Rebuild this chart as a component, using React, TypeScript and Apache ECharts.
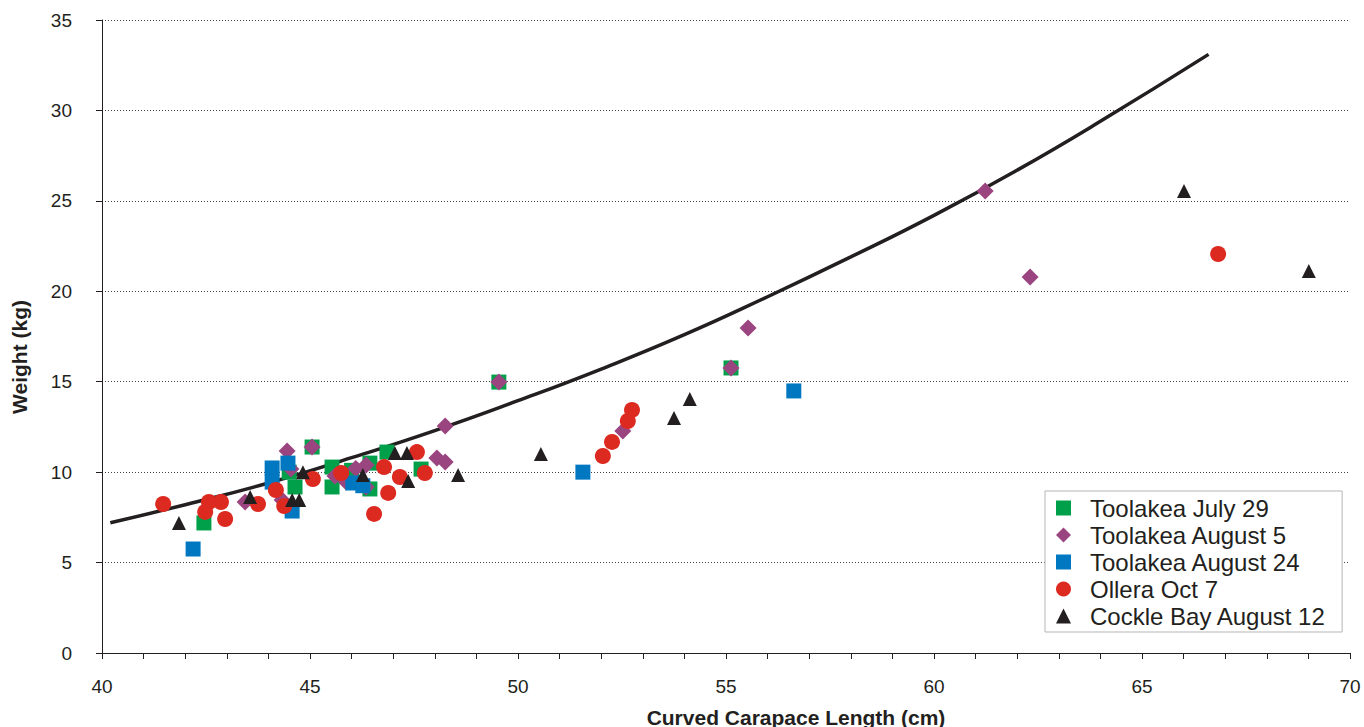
import React, { useEffect, useRef } from "react";
import * as echarts from "echarts";

// ---- data ----
const toolakeaJuly29: number[][] = [
  [42.45, 7.19], [44.5, 10.0], [44.64, 9.18], [45.05, 11.39], [45.53, 10.28],
  [45.53, 9.18], [46.0, 10.1], [46.44, 10.5], [46.44, 9.07], [46.85, 11.11],
  [47.67, 10.17], [49.54, 14.98], [55.12, 15.76],
];
const toolakeaAugust5: number[][] = [
  [43.44, 8.35], [44.33, 8.46], [44.45, 11.17], [44.54, 10.17], [45.05, 11.39],
  [45.6, 9.79], [45.87, 9.45], [46.1, 10.2], [46.35, 10.39], [46.35, 9.18],
  [48.05, 10.78], [48.25, 10.56], [48.25, 12.55], [49.54, 14.98], [52.52, 12.27],
  [55.12, 15.76], [55.53, 17.97], [61.23, 25.54], [62.31, 20.79],
];
const toolakeaAugust24: number[][] = [
  [42.19, 5.75], [44.09, 10.23], [44.09, 9.45], [44.47, 10.5], [44.57, 7.85],
  [46.03, 9.4], [46.27, 9.25], [51.56, 10.0], [56.63, 14.49],
];
const olleraOct7: number[][] = [
  [41.47, 8.24], [42.48, 7.8], [42.57, 8.35], [42.86, 8.35], [42.96, 7.41],
  [43.75, 8.24], [44.18, 9.01], [44.38, 8.13], [45.07, 9.62], [45.75, 9.95],
  [46.54, 7.69], [46.78, 10.28], [46.88, 8.85], [47.16, 9.73], [47.57, 11.11],
  [47.76, 9.95], [52.04, 10.89], [52.26, 11.67], [52.64, 12.83], [52.74, 13.44],
  [66.83, 22.06],
];
const cockleBayAugust12: number[][] = [
  [41.85, 7.19], [43.56, 8.63], [44.57, 8.46], [44.74, 8.46], [44.83, 10.0],
  [46.27, 9.84], [47.04, 11.06], [47.33, 11.06], [47.36, 9.51], [48.56, 9.84],
  [50.55, 11.0], [53.75, 12.99], [54.13, 14.04], [66.01, 25.55], [69.01, 21.12],
];
// trend curve, points
const curveX: number[] = [40.2, 42, 44, 46, 48, 50, 52, 54, 56, 58, 60, 62, 64, 66.6];
const curveY: number[] = [7.2, 8.2, 9.4, 10.8, 12.3, 13.95, 15.7, 17.6, 19.7, 21.9, 24.2, 26.7, 29.4, 33.1];

const seriesNames = [
  "Toolakea July 29",
  "Toolakea August 5",
  "Toolakea August 24",
  "Ollera Oct 7",
  "Cockle Bay August 12",
];
const xTitle = "Curved Carapace Length (cm)";
const yTitle = "Weight (kg)";

const FONT = "'Liberation Sans', Arial, sans-serif";
const INK = "#231F20";

export default function App() {
  const ref = useRef<HTMLDivElement>(null);
  useEffect(() => {
    document.body.style.margin = "0";
    const chart = echarts.init(ref.current!, null, { renderer: "svg" });
    const scatter = (name: string, data: number[][], symbol: string, size: number, color: string) => ({
      name,
      type: "scatter",
      data,
      symbol,
      symbolSize: size,
      itemStyle: { color, opacity: 1 },
      z: 3,
      emphasis: { disabled: true },
    });
    chart.setOption({
      animation: false,
      backgroundColor: "#ffffff",
      textStyle: { fontFamily: FONT },
      grid: { left: 102, right: 14, top: 20, bottom: 74, containLabel: false },
      xAxis: {
        type: "value",
        min: 40,
        max: 70,
        interval: 5,
        axisLine: { show: true, onZero: false, lineStyle: { color: INK, width: 1 } },
        axisTick: { show: true, length: 6, lineStyle: { color: INK } },
        minorTick: { show: true, splitNumber: 5, length: 6, lineStyle: { color: INK } },
        splitLine: { show: false },
        axisLabel: { color: INK, fontSize: 19, margin: 24, fontFamily: FONT },
      },
      yAxis: {
        type: "value",
        min: 0,
        max: 35,
        interval: 5,
        axisLine: { show: true, lineStyle: { color: INK, width: 1 } },
        axisTick: { show: true, length: 6, lineStyle: { color: INK } },
        splitLine: { show: true, lineStyle: { color: "#444", width: 1, type: [1, 2] } },
        axisLabel: { color: INK, fontSize: 19, margin: 30, fontFamily: FONT },
      },
      legend: {
        orient: "vertical",
        left: 1045,
        top: 491,
        padding: [5, 16, 4, 11],
        itemGap: 3,
        itemWidth: 15,
        itemHeight: 15,
        backgroundColor: "#ffffff",
        borderColor: "#b5b5b5",
        borderWidth: 1,
        borderRadius: 0,
        data: seriesNames,
        textStyle: { color: INK, fontSize: 24, fontFamily: FONT, padding: [0, 0, 0, 14] },
        selectedMode: false,
      },
      graphic: [
        {
          type: "text",
          x: 796,
          y: 717,
          style: { text: xTitle, fill: INK, font: `bold 21px ${FONT}`, align: "center", verticalAlign: "middle" },
        },
        {
          type: "text",
          x: 19,
          y: 357,
          rotation: Math.PI / 2,
          style: { text: yTitle, fill: INK, font: `bold 21px ${FONT}`, align: "center", verticalAlign: "middle" },
        },
      ],
      series: [
        {
          name: "curve",
          type: "line",
          data: curveX.map((x, i) => [x, curveY[i]]),
          smooth: true,
          showSymbol: false,
          symbol: "none",
          lineStyle: { color: INK, width: 3.5 },
          z: 2,
          emphasis: { disabled: true },
        },
        scatter(seriesNames[0], toolakeaJuly29, "rect", 15, "#00A04B"),
        scatter(seriesNames[1], toolakeaAugust5, "diamond", 17, "#9B4580"),
        scatter(seriesNames[2], toolakeaAugust24, "rect", 15, "#0077C1"),
        scatter(seriesNames[3], olleraOct7, "circle", 16, "#DD2A20"),
        scatter(seriesNames[4], cockleBayAugust12, "triangle", 14, INK),
      ],
    });
    return () => chart.dispose();
  }, []);
  return <div ref={ref} style={{ width: 1364, height: 727 }} />;
}
